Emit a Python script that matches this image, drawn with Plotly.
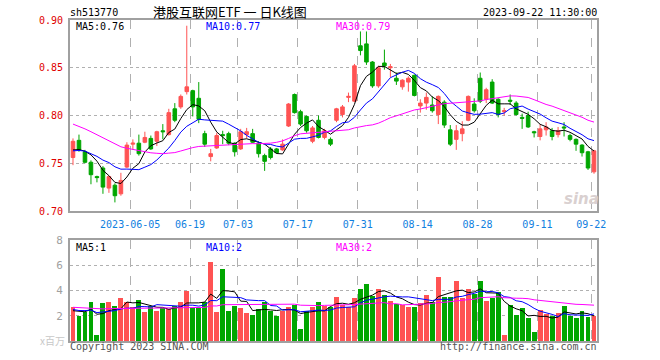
import plotly.graph_objects as go

# ---------------- data ----------------
open_ = [0.756, 0.774, 0.762, 0.751, 0.736, 0.745, 0.724, 0.727, 0.718, 0.746,
         0.770, 0.771, 0.772, 0.776, 0.773, 0.784, 0.780, 0.807, 0.809, 0.825,
         0.826, 0.818, 0.781, 0.757, 0.766, 0.780, 0.781, 0.771, 0.765, 0.780,
         0.781, 0.771, 0.758, 0.765, 0.765, 0.764, 0.789, 0.822, 0.804, 0.799,
         0.773, 0.795, 0.777, 0.775, 0.795, 0.801, 0.819, 0.815, 0.873, 0.875,
         0.856, 0.831, 0.855, 0.850, 0.839, 0.830, 0.835, 0.842, 0.810, 0.813,
         0.811, 0.801, 0.814, 0.785, 0.775, 0.781, 0.795, 0.812, 0.839, 0.817,
         0.835, 0.817, 0.804, 0.816, 0.813, 0.798, 0.800, 0.783, 0.778, 0.785,
         0.784, 0.780, 0.788, 0.779, 0.775, 0.769, 0.762, 0.741]
high = [0.776, 0.780, 0.764, 0.753, 0.737, 0.747, 0.737, 0.729, 0.740, 0.772,
        0.775, 0.780, 0.783, 0.779, 0.784, 0.791, 0.807, 0.813, 0.822, 0.894,
        0.827, 0.835, 0.784, 0.765, 0.782, 0.784, 0.783, 0.772, 0.786, 0.787,
        0.786, 0.773, 0.760, 0.767, 0.766, 0.775, 0.813, 0.823, 0.806, 0.800,
        0.789, 0.800, 0.786, 0.777, 0.808, 0.811, 0.824, 0.854, 0.888, 0.888,
        0.857, 0.852, 0.869, 0.854, 0.845, 0.838, 0.841, 0.843, 0.817, 0.824,
        0.820, 0.821, 0.816, 0.790, 0.790, 0.794, 0.821, 0.818, 0.845, 0.829,
        0.838, 0.818, 0.808, 0.822, 0.815, 0.802, 0.804, 0.784, 0.791, 0.793,
        0.787, 0.788, 0.793, 0.781, 0.776, 0.770, 0.763, 0.764]
low = [0.748, 0.762, 0.750, 0.728, 0.730, 0.718, 0.719, 0.709, 0.716, 0.745,
       0.764, 0.758, 0.771, 0.764, 0.768, 0.775, 0.779, 0.793, 0.807, 0.822,
       0.799, 0.792, 0.767, 0.752, 0.765, 0.770, 0.769, 0.757, 0.764, 0.776,
       0.771, 0.756, 0.742, 0.754, 0.760, 0.763, 0.788, 0.802, 0.789, 0.782,
       0.771, 0.776, 0.775, 0.768, 0.793, 0.798, 0.814, 0.814, 0.863, 0.853,
       0.829, 0.829, 0.848, 0.840, 0.832, 0.827, 0.825, 0.820, 0.803, 0.806,
       0.803, 0.791, 0.787, 0.768, 0.764, 0.773, 0.794, 0.803, 0.813, 0.813,
       0.812, 0.798, 0.800, 0.811, 0.800, 0.786, 0.787, 0.777, 0.774, 0.779,
       0.774, 0.777, 0.778, 0.773, 0.763, 0.757, 0.743, 0.739]
close = [0.773, 0.764, 0.751, 0.738, 0.735, 0.725, 0.736, 0.716, 0.732, 0.769,
         0.771, 0.760, 0.777, 0.765, 0.783, 0.783, 0.803, 0.795, 0.820, 0.830,
         0.809, 0.796, 0.770, 0.760, 0.779, 0.779, 0.771, 0.762, 0.783, 0.783,
         0.772, 0.760, 0.752, 0.756, 0.761, 0.770, 0.812, 0.803, 0.791, 0.784,
         0.787, 0.777, 0.784, 0.770, 0.807, 0.809, 0.820, 0.852, 0.868, 0.856,
         0.831, 0.850, 0.852, 0.851, 0.836, 0.837, 0.839, 0.821, 0.813, 0.819,
         0.805, 0.820, 0.790, 0.770, 0.784, 0.786, 0.820, 0.805, 0.815, 0.827,
         0.813, 0.801, 0.805, 0.815, 0.801, 0.797, 0.788, 0.782, 0.786, 0.788,
         0.778, 0.784, 0.787, 0.775, 0.770, 0.761, 0.745, 0.763]
volume = [2.72, 1.95, 2.32, 3.12, 0.48, 2.99, 3.12, 2.80, 3.39, 3.12,
          2.67, 3.28, 2.27, 2.75, 2.40, 2.61, 2.53, 2.80, 3.12, 4.00,
          2.59, 2.59, 3.12, 6.27, 2.32, 5.68, 2.40, 2.80, 2.59, 2.19,
          2.08, 2.53, 3.12, 2.40, 1.95, 2.40, 2.67, 2.85, 0.99, 2.40,
          2.67, 3.07, 2.80, 2.72, 3.52, 2.85, 2.67, 3.39, 4.08, 4.48,
          3.55, 4.08, 3.68, 3.20, 2.93, 2.85, 2.72, 2.72, 3.01, 3.68,
          3.12, 5.04, 3.47, 3.52, 4.72, 3.39, 4.08, 3.73, 4.72, 3.20,
          3.39, 3.92, 0.48, 2.88, 2.08, 2.64, 1.84, 0.72, 2.45, 2.13,
          1.95, 2.21, 2.80, 1.95, 1.79, 2.40, 1.87, 1.95]

# closes / volumes of the 29 sessions before the visible window (estimated
# so that the moving averages start where the chart shows them)
warmup_close = [0.835, 0.830, 0.828, 0.832, 0.825, 0.820, 0.818, 0.822, 0.815, 0.808,
                0.805, 0.800, 0.803, 0.798, 0.796, 0.785, 0.778, 0.770, 0.768, 0.764,
                0.760, 0.758, 0.765, 0.763, 0.764, 0.762, 0.760, 0.757, 0.768]
warmup_volume = [2.9, 3.1, 2.6, 2.8, 3.3, 2.5, 2.7, 2.9, 2.4, 2.6,
                 3.0, 2.8, 2.5, 2.7, 2.9, 2.6, 2.8, 2.5, 2.7, 2.8,
                 2.8, 2.4, 2.7, 2.5, 2.6, 2.2, 2.5, 2.1, 2.48]

tick_days = [10, 20, 28, 38, 48, 58, 68, 78, 87]
tick_labels = ["2023-06-05", "06-19", "07-03", "07-17", "07-31",
               "08-14", "08-28", "09-11", "09-22"]
price_ticks = [0.70, 0.75, 0.80, 0.85, 0.90]
volume_ticks = [2, 4, 6, 8]
ma_periods = [5, 10, 30]

code = "sh513770"
title = "港股互联网ETF 一 日K线图"
stamp = "2023-09-22 11:30:00"

# ---------------- helpers ----------------
W, H = 660, 360
RED, GREEN = "#ff5353", "#00a600"
MA_COLORS = ["#000000", "#0000ff", "#ff00ff"]
MONO = "DejaVu Sans Mono"


def px(x):
    return x / W


def py(y):
    return 1 - y / H


def moving_average(full, n, count):
    out = []
    start = len(full) - count
    for i in range(start, len(full)):
        win = full[i - n + 1:i + 1]
        out.append(sum(win) / len(win))
    return out


n = len(close)
xs = list(range(n))
full_close = warmup_close + close
full_vol = warmup_volume + volume
price_ma = [moving_average(full_close, p, n) for p in ma_periods]
vol_ma = [moving_average(full_vol, p, n) for p in ma_periods]

fig = go.Figure()

fig.add_trace(go.Candlestick(
    x=xs, open=open_, high=high, low=low, close=close,
    increasing=dict(line=dict(color=RED, width=1), fillcolor=RED),
    decreasing=dict(line=dict(color=GREEN, width=1), fillcolor=GREEN),
    whiskerwidth=0, xaxis="x", yaxis="y", showlegend=False, hoverinfo="skip"))

for ma, col in zip(price_ma, MA_COLORS):
    fig.add_trace(go.Scatter(x=xs, y=ma, mode="lines", line=dict(color=col, width=1),
                             xaxis="x", yaxis="y", showlegend=False, hoverinfo="skip"))

bar_colors = [RED if c >= o else GREEN for o, c in zip(open_, close)]
fig.add_trace(go.Bar(x=xs, y=volume, marker=dict(color=bar_colors, line=dict(width=0)),
                     width=0.82, xaxis="x2", yaxis="y2", showlegend=False, hoverinfo="skip"))

for ma, col in zip(vol_ma, MA_COLORS):
    fig.add_trace(go.Scatter(x=xs, y=ma, mode="lines", line=dict(color=col, width=1),
                             xaxis="x2", yaxis="y2", showlegend=False, hoverinfo="skip"))

grid_x = [d - 0.45 for d in tick_days]
xdom = [px(70), px(597)]
common_x = dict(range=[-0.5, n - 0.5], domain=xdom, showgrid=True, gridcolor="#b0b0b0",
                griddash="dash", gridwidth=1, showline=True, mirror=True, linecolor="#a0a0a0",
                linewidth=2, zeroline=False, tickmode="array", tickvals=grid_x, fixedrange=True)

fig.update_layout(
    width=W, height=H, margin=dict(l=0, r=0, t=0, b=0, autoexpand=False),
    paper_bgcolor="white", plot_bgcolor="white", boxgap=0.15, bargap=0,
    xaxis=dict(**common_x, anchor="y", ticktext=tick_labels, ticks="outside", ticklen=3,
               tickcolor="rgba(0,0,0,0)", rangeslider=dict(visible=False),
               tickfont=dict(family=MONO, size=10, color="#1080e0")),
    xaxis2=dict(**common_x, anchor="y2", matches="x", ticktext=tick_labels, showticklabels=False),
    yaxis=dict(domain=[py(211), py(20)], range=[0.70, 0.90], tickmode="array",
               tickvals=price_ticks, ticktext=[f"{v:.2f}" for v in price_ticks],
               showgrid=True, gridcolor="#b0b0b0", griddash="dot", showline=True, mirror=True,
               linecolor="#a0a0a0", linewidth=2, zeroline=False, ticks="outside", ticklen=3,
               tickcolor="rgba(0,0,0,0)", tickfont=dict(family=MONO, size=10, color="#e00000"),
               anchor="x", fixedrange=True),
    yaxis2=dict(domain=[py(341), py(240)], range=[0, 8], tickmode="array",
                tickvals=volume_ticks, ticktext=[str(v) for v in volume_ticks],
                showgrid=True, gridcolor="#b0b0b0", griddash="dot", showline=True, mirror=True,
                linecolor="#a0a0a0", linewidth=2, zeroline=False, ticks="outside", ticklen=3,
                tickcolor="rgba(0,0,0,0)", tickfont=dict(family=MONO, size=11, color="#a0a0a0"),
                anchor="x2", fixedrange=True),
)


def note(text, x, y, xanchor="left", color="#000000", size=10, family=MONO):
    fig.add_annotation(text=text, x=px(x), y=py(y), xref="paper", yref="paper",
                       xanchor=xanchor, yanchor="middle", showarrow=False, borderpad=0,
                       font=dict(family=family, size=size, color=color))


note(code, 69, 13)
note(title, 230, 11.5, xanchor="center", size=13, family="Noto Sans CJK SC")
note(stamp, 598, 13, xanchor="right")

labels_x = [75, 205, 335]
for p, ma, col, lx in zip(ma_periods, price_ma, MA_COLORS, labels_x):
    note(f"MA{p}:{ma[-1]:.2f}", lx, 26.5, color=col)
for p, ma, col, lx in zip(ma_periods, vol_ma, MA_COLORS, labels_x):
    note(f"MA{p}:{int(ma[-1])}", lx, 247, color=col)

note("x百万", 66, 340, xanchor="right", color="#c8c8c8", size=10, family="Noto Sans CJK SC")
note("Copyright 2023 SINA.COM", 69, 346, color="#555555")
note("http://finance.sina.com.cn", 598, 346, xanchor="right", color="#555555")
note("<b><i>sina</i></b>", 581, 199, xanchor="center", color="#d9d0d0", size=15,
     family="DejaVu Sans")

# remove the page's default body margin so the figure fills the window exactly
fig.write_html("out.html", config={"responsive": False, "displayModeBar": False,
                                   "staticPlot": True},
               post_script="document.body.style.margin='0';")
